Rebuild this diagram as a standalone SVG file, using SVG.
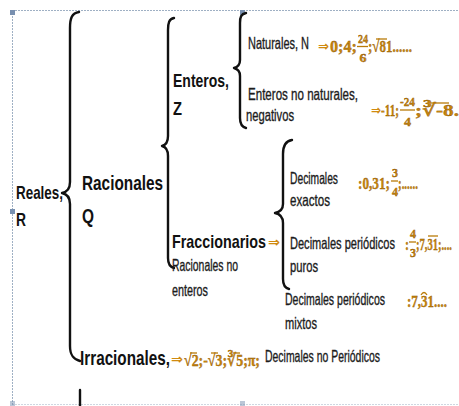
<svg xmlns="http://www.w3.org/2000/svg" width="459" height="406" viewBox="0 0 459 406">
<style>
.b{font-family:"Liberation Sans Narrow","Liberation Sans",Arial,sans-serif;font-weight:bold;fill:#111}
.r{font-family:"Liberation Sans Narrow","Liberation Sans",Arial,sans-serif;fill:#1c1c1c;stroke:#1c1c1c;stroke-width:0.35}
.m{font-family:"Liberation Serif","DejaVu Serif",serif;font-weight:bold;fill:#c8860c;stroke:#8a5200;stroke-width:0.35}
.a{font-family:"DejaVu Sans",sans-serif;font-weight:bold;fill:#d08a10}
.brace{fill:none;stroke:#111;stroke-width:2.4;stroke-linecap:round;stroke-linejoin:round}
.ol{stroke:#b87a08;stroke-width:1.3}
.frame{stroke:#9fb0c4;stroke-width:1;stroke-dasharray:2 1;fill:none}
.h{fill:#7890b0}
</style>
<rect width="459" height="406" fill="#ffffff"/>
<g id="frame">
<line class="frame" x1="12" y1="10.5" x2="459" y2="10.5"/>
<line class="frame" x1="12.5" y1="10" x2="12.5" y2="406"/>
<line class="frame" x1="12" y1="404.5" x2="459" y2="404.5" opacity="0.5"/>
<rect class="h" x="10" y="10" width="5" height="5"/>
<rect class="h" x="240" y="10" width="5" height="5"/>
<rect class="h" x="10" y="209" width="5" height="5"/>
<rect class="h" x="10" y="401" width="5" height="5" opacity="0.5"/>
<rect class="h" x="240" y="401" width="5" height="5" opacity="0.5"/>
</g>
<g id="connectors">
<path class="brace" d="M79,12 C72,13 70,18 70,28 L70,182 C70,189 67,192 62,193 C67,194 70,197 70,204 L70,346 C70,355 73,359 80,361"/>
<line class="brace" x1="80" y1="390" x2="80" y2="406"/>
<path class="brace" d="M174,18 C169,19 168,23 168,30 L168,136 C168,142 166,145 162,146 C166,147 168,150 168,156 L168,258 C168,264 170,267 174,268"/>
<path class="brace" d="M246,13 C241,14 240,17 240,23 L240,60 C240,65 238,67 234,68 C238,69 240,71 240,76 L240,118 C240,124 242,127 246,128"/>
<path class="brace" d="M292,140 C285,141 283,146 283,154 L283,204 C283,210 280,212 275,213 C280,214 283,217 283,223 L283,279 C283,285 285,288 289,289"/>
</g>
<g id="reales">
<text class="b" x="16" y="199" font-size="19" textLength="47" lengthAdjust="spacingAndGlyphs">Reales,</text>
<text class="b" x="16" y="226" font-size="19" textLength="10" lengthAdjust="spacingAndGlyphs">R</text>
</g>
<g id="racionales">
<text class="b" x="82" y="190" font-size="21" textLength="81" lengthAdjust="spacingAndGlyphs">Racionales</text>
<text class="b" x="82" y="223" font-size="21" textLength="12" lengthAdjust="spacingAndGlyphs">Q</text>
</g>
<g id="enteros">
<text class="b" x="173" y="87" font-size="19" textLength="56" lengthAdjust="spacingAndGlyphs">Enteros,</text>
<text class="b" x="173" y="115" font-size="19" textLength="9" lengthAdjust="spacingAndGlyphs">Z</text>
</g>
<g id="naturales">
<text class="r" x="248" y="49" font-size="16.5" textLength="61" lengthAdjust="spacingAndGlyphs">Naturales, N</text>
<text class="a" x="318" y="51" font-size="14" textLength="11" lengthAdjust="spacingAndGlyphs">⇒</text>
<text class="m" x="330" y="52" font-size="17" textLength="27" lengthAdjust="spacingAndGlyphs">0;4;</text>
<text class="m" x="358" y="43" font-size="13" textLength="10" lengthAdjust="spacingAndGlyphs">24</text>
<line class="ol" x1="357" y1="46.5" x2="368" y2="46.5"/>
<text class="m" x="359.5" y="62" font-size="13" textLength="7" lengthAdjust="spacingAndGlyphs">6</text>
<text class="m" x="368" y="52" font-size="17" textLength="44" lengthAdjust="spacingAndGlyphs">;√81......</text>
<line class="ol" x1="376" y1="39" x2="387" y2="39"/>
</g>
<g id="negativos">
<text class="r" x="248" y="100" font-size="16.5" textLength="110" lengthAdjust="spacingAndGlyphs">Enteros no naturales,</text>
<text class="r" x="246" y="121" font-size="16.5" textLength="48" lengthAdjust="spacingAndGlyphs">negativos</text>
<text class="a" x="371" y="115" font-size="14" textLength="10" lengthAdjust="spacingAndGlyphs">⇒</text>
<text class="m" x="381" y="116" font-size="17" textLength="18" lengthAdjust="spacingAndGlyphs">-11;</text>
<text class="m" x="400" y="106" font-size="13" textLength="15" lengthAdjust="spacingAndGlyphs">-24</text>
<line class="ol" x1="400" y1="110" x2="415" y2="110"/>
<text class="m" x="404" y="126" font-size="13" textLength="7" lengthAdjust="spacingAndGlyphs">4</text>
<text class="m" x="415" y="116" font-size="17" textLength="44" lengthAdjust="spacingAndGlyphs">;∛-8.</text>
<line class="ol" x1="430" y1="103" x2="449" y2="103"/>
</g>
<g id="decimales-exactos">
<text class="r" x="290" y="184" font-size="16.5" textLength="48" lengthAdjust="spacingAndGlyphs">Decimales</text>
<text class="r" x="290" y="206" font-size="16.5" textLength="40" lengthAdjust="spacingAndGlyphs">exactos</text>
<text class="m" x="358" y="189" font-size="17" textLength="32" lengthAdjust="spacingAndGlyphs">:0,31;</text>
<text class="m" x="392" y="177" font-size="13" textLength="6" lengthAdjust="spacingAndGlyphs">3</text>
<line class="ol" x1="391" y1="181" x2="398" y2="181"/>
<text class="m" x="392" y="196" font-size="13" textLength="6" lengthAdjust="spacingAndGlyphs">4</text>
<text class="m" x="398" y="189" font-size="17" textLength="20" lengthAdjust="spacingAndGlyphs">;......</text>
</g>
<g id="fraccionarios">
<text class="b" x="172" y="248" font-size="19" textLength="94" lengthAdjust="spacingAndGlyphs">Fraccionarios</text>
<text class="a" x="268" y="247" font-size="14" textLength="12" lengthAdjust="spacingAndGlyphs">⇒</text>
<text class="r" x="172" y="271" font-size="16.5" textLength="66" lengthAdjust="spacingAndGlyphs">Racionales no</text>
<text class="r" x="172" y="296" font-size="16.5" textLength="36" lengthAdjust="spacingAndGlyphs">enteros</text>
</g>
<g id="periodicos-puros">
<text class="r" x="290" y="249" font-size="16.5" textLength="105" lengthAdjust="spacingAndGlyphs">Decimales periódicos</text>
<text class="r" x="290" y="272" font-size="16.5" textLength="28" lengthAdjust="spacingAndGlyphs">puros</text>
<text class="m" x="405" y="250" font-size="17" textLength="4" lengthAdjust="spacingAndGlyphs">:</text>
<text class="m" x="410" y="238" font-size="13" textLength="6" lengthAdjust="spacingAndGlyphs">4</text>
<line class="ol" x1="409" y1="242" x2="416" y2="242"/>
<text class="m" x="410" y="257" font-size="13" textLength="6" lengthAdjust="spacingAndGlyphs">3</text>
<text class="m" x="416" y="250" font-size="17" textLength="36" lengthAdjust="spacingAndGlyphs">;7,31;....</text>
<line class="ol" x1="428" y1="236" x2="438" y2="236"/>
</g>
<g id="periodicos-mixtos">
<text class="r" x="285" y="305" font-size="16.5" textLength="100" lengthAdjust="spacingAndGlyphs">Decimales periódicos</text>
<text class="r" x="285" y="329" font-size="16.5" textLength="32" lengthAdjust="spacingAndGlyphs">mixtos</text>
<text class="m" x="407" y="307" font-size="17" textLength="40" lengthAdjust="spacingAndGlyphs">:7,31....</text>
<path d="M421,295 Q424,290 427,295" fill="none" stroke="#b87a08" stroke-width="1.3"/>
</g>
<g id="irracionales">
<text class="b" x="80" y="365" font-size="21" textLength="90" lengthAdjust="spacingAndGlyphs">Irracionales,</text>
<text class="a" x="171" y="364" font-size="14" textLength="12" lengthAdjust="spacingAndGlyphs">⇒</text>
<text class="m" x="184" y="366" font-size="17" textLength="76" lengthAdjust="spacingAndGlyphs">√2;-√3;∛5;π;</text>
<line class="ol" x1="190" y1="353" x2="197" y2="353"/>
<line class="ol" x1="211" y1="353" x2="218" y2="353"/>
<line class="ol" x1="233" y1="353" x2="240" y2="353"/>
<text class="r" x="265" y="362" font-size="16.5" textLength="115" lengthAdjust="spacingAndGlyphs">Decimales no Periódicos</text>
</g>
</svg>
